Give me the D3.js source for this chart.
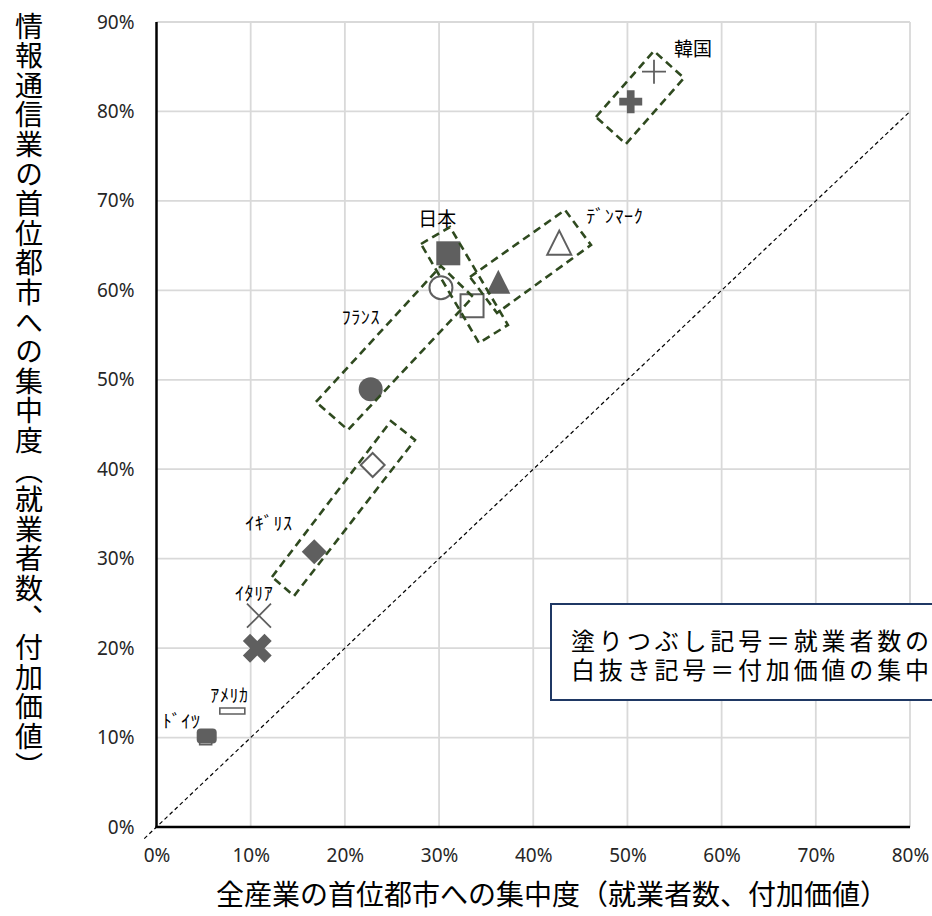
<!DOCTYPE html>
<html>
<head>
<meta charset="utf-8">
<script src="https://cdn.jsdelivr.net/npm/d3@7"></script>
<style>
  html, body { margin: 0; padding: 0; background: #fff; }
  svg { display: block; }
</style>
</head>
<body>
<svg id="chart" width="932" height="916"></svg>
<script>
// ---- Data: concentration in the primate city (%) ----
const countries   = ["韓国", "日本", "フランス", "デンマーク", "イギリス", "イタリア", "アメリカ", "ドイツ"];
const pointLabels = ["韓国", "日本", "ﾌﾗﾝｽ", "ﾃﾞﾝﾏｰｸ", "ｲｷﾞﾘｽ", "ｲﾀﾘｱ", "ｱﾒﾘｶ", "ﾄﾞｲﾂ"];

// employment basis (filled markers)
const allIndustriesEmp = [50.35, 30.98, 22.74, 36.29, 16.75, 10.70, null, 5.33];
const ictEmp           = [81.09, 64.14, 48.94, 60.97, 30.78, 19.98, null, 10.17];
// value-added basis (open markers)
const allIndustriesVA  = [52.82, 33.50, 30.20, 42.76, 22.95, 10.88, 8.05, 5.22];
const ictVA            = [84.45, 58.27, 60.30, 65.33, 40.47, 23.62, 12.97, 9.47];

const xTicks = [0, 10, 20, 30, 40, 50, 60, 70, 80];
const yTicks = [0, 10, 20, 30, 40, 50, 60, 70, 80, 90];

// 45-degree reference line (x = y), in %
const diagonalRange = [-1.3, 80];

// dashed outlines grouping each country's pair of markers (corners in %)
const outlineKorea   = [[46.66, 79.38], [52.81, 86.76], [56.00, 83.74], [49.84, 76.36]];
const outlineJapan   = [[28.08, 65.18], [31.16, 67.08], [37.31, 56.13], [34.24, 54.11]];
const outlineFrance  = [[16.93, 47.52], [30.20, 62.72], [33.60, 59.26], [20.33, 44.39]];
const outlineDenmark = [[33.28, 61.49], [43.37, 68.98], [46.13, 65.07], [36.15, 57.47]];
const outlineUK      = [[12.26, 27.95], [24.89, 45.39], [27.44, 43.27], [14.60, 25.83]];

const xTitle = "全産業の首位都市への集中度（就業者数、付加価値）";
const yTitle = "情報通信業の首位都市への集中度（就業者数、付加価値）";
// note box runs past the right edge; only the part inside the page is written
const legendLines = ["塗りつぶし記号＝就業者数の", "白抜き記号＝付加価値の集中"];

// ---- Layout ----
const svg = d3.select("#chart");
const plot = { left: 156.5, right: 910, top: 22, bottom: 827 };
const x = d3.scaleLinear().domain([0, 80]).range([plot.left, plot.right]);
const y = d3.scaleLinear().domain([0, 90]).range([plot.bottom, plot.top]);

const markColor = "#5f5f5f";
const gridColor = "#d9d9d9";
const boxColor  = "#2f4a1f";
const cjk = "'Noto Sans CJK JP', 'Noto Sans', sans-serif";

// gridlines
svg.append("g").selectAll("line").data(xTicks.filter(d => d > 0)).join("line")
  .attr("x1", d => x(d)).attr("x2", d => x(d))
  .attr("y1", plot.top).attr("y2", plot.bottom)
  .attr("stroke", gridColor).attr("stroke-width", 1.8);
svg.append("g").selectAll("line").data(yTicks.filter(d => d > 0)).join("line")
  .attr("y1", d => y(d)).attr("y2", d => y(d))
  .attr("x1", plot.left).attr("x2", plot.right)
  .attr("stroke", gridColor).attr("stroke-width", 1.8);

// axes (labels only; the axis lines are drawn separately)
const xAxis = svg.append("g").attr("transform", `translate(0,${plot.bottom})`)
  .call(d3.axisBottom(x).tickValues(xTicks).tickFormat(d => d + "%").tickSize(0).tickPadding(22));
const yAxis = svg.append("g").attr("transform", `translate(${plot.left},0)`)
  .call(d3.axisLeft(y).tickValues(yTicks).tickFormat(d => d + "%").tickSize(0).tickPadding(22));
[xAxis, yAxis].forEach(g => {
  g.select(".domain").remove();
  g.selectAll("text").attr("font-family", "'Noto Sans', 'Open Sans', sans-serif")
    .attr("font-size", 19).attr("fill", "#262626");
});

// 45-degree reference line
svg.append("line")
  .attr("x1", x(diagonalRange[0])).attr("y1", y(diagonalRange[0]))
  .attr("x2", x(diagonalRange[1])).attr("y2", y(diagonalRange[1]))
  .attr("stroke", "#000").attr("stroke-width", 1.2).attr("stroke-dasharray", "4,3");

// axis lines
svg.append("line").attr("x1", plot.left).attr("x2", plot.left)
  .attr("y1", plot.top).attr("y2", plot.bottom + 1).attr("stroke", "#000").attr("stroke-width", 2.5);
svg.append("line").attr("x1", plot.left - 1).attr("x2", plot.right)
  .attr("y1", plot.bottom).attr("y2", plot.bottom).attr("stroke", "#000").attr("stroke-width", 2.5);

// ---- Markers ----
const shapeOf = {
  "韓国": "plus", "日本": "square", "フランス": "circle", "デンマーク": "triangle",
  "イギリス": "diamond", "イタリア": "times", "アメリカ": "dashWide", "ドイツ": "dash"
};

function marker(shape, filled) {
  const f = { fill: markColor, stroke: "none", sw: 0, rot: 0 };
  const o = { fill: "#fff", stroke: markColor, sw: 1.8, rot: 0 };
  switch (shape) {
    case "plus":
      return filled ? { ...f, d: d3.symbol(d3.symbolCross, 293)() }
                    : { ...o, fill: "none", d: "M-12,0H12M0,-12V12" };
    case "square":
      return filled ? { ...f, d: d3.symbol(d3.symbolSquare, 576)() }
                    : { ...o, sw: 2, d: d3.symbol(d3.symbolSquare, 529)() };
    case "circle":
      return filled ? { ...f, d: d3.symbol(d3.symbolCircle, Math.PI * 144)() }
                    : { ...o, sw: 2, d: d3.symbol(d3.symbolCircle, Math.PI * 132)() };
    case "triangle":
      return filled ? { ...f, d: "M0,-12L12,12L-12,12Z" }
                    : { ...o, sw: 2, d: "M0,-12L12,12L-12,12Z" };
    case "diamond":
      return filled ? { ...f, d: "M0,-12.5L12.5,0L0,12.5L-12.5,0Z" }
                    : { ...o, sw: 2, d: "M0,-12L12,0L0,12L-12,0Z" };
    case "times":
      return filled ? { ...f, rot: 45, d: d3.symbol(d3.symbolCross, 520)() }
                    : { ...o, fill: "none", d: "M-12,-12L12,12M-12,12L12,-12" };
    case "dashWide":
      return filled ? { ...f, d: "M-12,-6H12V6H-12Z" }
                    : { ...o, sw: 1.6, d: "M-12.5,-3H12.5V3H-12.5Z" };
    case "dash":
      return filled ? { ...f, d: "M-6,-7.5H6Q10,-7.5 10,-3.5V3.5Q10,7.5 6,7.5H-6Q-10,7.5 -10,3.5V-3.5Q-10,-7.5 -6,-7.5Z" }
                    : { ...o, sw: 1.6, d: "M-6,-2.3H6V2.3H-6Z" };
  }
}

const points = [];
countries.forEach((c, i) => {
  if (allIndustriesVA[i] != null && ictVA[i] != null)
    points.push({ country: c, filled: false, x: allIndustriesVA[i], y: ictVA[i] });
  if (allIndustriesEmp[i] != null && ictEmp[i] != null)
    points.push({ country: c, filled: true, x: allIndustriesEmp[i], y: ictEmp[i] });
});

svg.append("g").selectAll("path").data(points).join("path")
  .each(function (p) {
    const m = marker(shapeOf[p.country], p.filled);
    d3.select(this)
      .attr("d", m.d)
      .attr("transform", `translate(${x(p.x)},${y(p.y)}) rotate(${m.rot})`)
      .attr("fill", m.fill)
      .attr("stroke", m.stroke)
      .attr("stroke-width", m.sw);
  });

// ---- Dashed group outlines ----
const outlines = [outlineKorea, outlineJapan, outlineFrance, outlineDenmark, outlineUK];
const outlineLine = d3.line().x(d => x(d[0])).y(d => y(d[1])).curve(d3.curveLinearClosed);
svg.append("g").selectAll("path").data(outlines).join("path")
  .attr("d", outlineLine)
  .attr("fill", "none")
  .attr("stroke", boxColor)
  .attr("stroke-width", 2.6)
  .attr("stroke-dasharray", "8,5");

// ---- Country labels ----
const labelPlacement = {
  "韓国":       { ref: "va",  dx: 39,  dy: -24, anchor: "middle", size: 19, ls: 0 },
  "日本":       { ref: "emp", dx: -11, dy: -36, anchor: "middle", size: 19, ls: 0 },
  "フランス":   { ref: "emp", dx: -29, dy: -73, anchor: "start",  size: 18, ls: 0.6 },
  "デンマーク": { ref: "va",  dx: 27,  dy: -28, anchor: "start",  size: 18, ls: 0.6 },
  "イギリス":   { ref: "emp", dx: -69, dy: -30, anchor: "start",  size: 18, ls: 0.6 },
  "イタリア":   { ref: "va",  dx: -24, dy: -24, anchor: "start",  size: 18, ls: 0.6 },
  "アメリカ":   { ref: "va",  dx: -22, dy: -17, anchor: "start",  size: 18, ls: 0.6 },
  "ドイツ":     { ref: "emp", dx: -44, dy: -16, anchor: "start",  size: 18, ls: 0.6 }
};
const labelData = countries.map((c, i) => {
  const p = labelPlacement[c];
  const px = p.ref === "emp" ? allIndustriesEmp[i] : allIndustriesVA[i];
  const py = p.ref === "emp" ? ictEmp[i] : ictVA[i];
  return { text: pointLabels[i], x: x(px) + p.dx, y: y(py) + p.dy, p };
});
svg.append("g").selectAll("text").data(labelData).join("text")
  .attr("x", d => d.x).attr("y", d => d.y)
  .attr("text-anchor", d => d.p.anchor)
  .attr("dominant-baseline", "central")
  .attr("font-family", cjk)
  .attr("font-size", d => d.p.size)
  .attr("letter-spacing", d => d.p.ls)
  .attr("fill", "#000")
  .text(d => d.text);

// ---- Note box ----
const legend = svg.append("g");
legend.append("rect")
  .attr("x", 551).attr("y", 604).attr("width", 440).attr("height", 96)
  .attr("fill", "#fff").attr("stroke", "#1f3864").attr("stroke-width", 2);
legend.append("text")
  .attr("font-family", cjk).attr("font-size", 24).attr("fill", "#000")
  .selectAll("tspan").data(legendLines).join("tspan")
  .attr("x", 571).attr("y", (d, i) => 639 + i * 29)
  .attr("dominant-baseline", "central")
  .attr("textLength", 358).attr("lengthAdjust", "spacing")
  .text(d => d);

// ---- Axis titles ----
svg.append("text")
  .attr("x", 552).attr("y", 893)
  .attr("text-anchor", "middle").attr("dominant-baseline", "central")
  .attr("font-family", cjk).attr("font-size", 28).attr("fill", "#000")
  .text(xTitle);

svg.append("text")
  .attr("x", 29).attr("y", 12)
  .attr("font-family", cjk).attr("font-size", 28).attr("letter-spacing", 1.6)
  .attr("fill", "#000")
  .style("writing-mode", "vertical-rl")
  .text(yTitle);
</script>
</body>
</html>
